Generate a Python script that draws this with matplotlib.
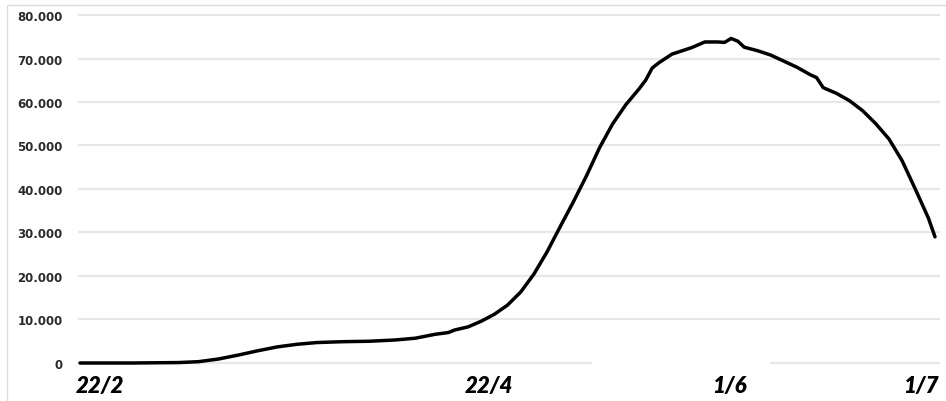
import numpy as np
import matplotlib
matplotlib.use("Agg")
import matplotlib.pyplot as plt
from matplotlib.transforms import ScaledTranslation
from matplotlib.patches import Rectangle
from matplotlib.ticker import FuncFormatter

dates = ["2020-02-22", "2020-03-01", "2020-03-08", "2020-03-11", "2020-03-14",
         "2020-03-17", "2020-03-20", "2020-03-23", "2020-03-26", "2020-03-29",
         "2020-04-02", "2020-04-06", "2020-04-10", "2020-04-13", "2020-04-16",
         "2020-04-18", "2020-04-19", "2020-04-21", "2020-04-23", "2020-04-25",
         "2020-04-27", "2020-04-29", "2020-05-01", "2020-05-03", "2020-05-05",
         "2020-05-07", "2020-05-09", "2020-05-11", "2020-05-13", "2020-05-15",
         "2020-05-17", "2020-05-18", "2020-05-19", "2020-05-20", "2020-05-22",
         "2020-05-24", "2020-05-25", "2020-05-27", "2020-05-29", "2020-05-30",
         "2020-05-31", "2020-06-01", "2020-06-02", "2020-06-04", "2020-06-06",
         "2020-06-08", "2020-06-10", "2020-06-12", "2020-06-13", "2020-06-14",
         "2020-06-16", "2020-06-18", "2020-06-20", "2020-06-22", "2020-06-24",
         "2020-06-26", "2020-06-28", "2020-06-30", "2020-07-01"]
values = [0, 0, 100, 300, 900,
          1800, 2800, 3700, 4300, 4700,
          4900, 5000, 5300, 5700, 6600,
          7000, 7600, 8300, 9600, 11200,
          13300, 16300, 20400, 25500, 31300,
          37000, 43000, 49500, 55000, 59400,
          63000, 65000, 67800, 69000, 71000,
          72000, 72500, 73800, 73800, 73700,
          74600, 74000, 72600, 71800, 70800,
          69400, 68000, 66300, 65600, 63300,
          62000, 60300, 58000, 55000, 51500,
          46500, 40000, 33300, 29000]

tick_dates = ["2020-02-22", "2020-04-22", "2020-06-01", "2020-07-01"]
tick_labels = ["22/2", "22/4", "1/6", "1/7"]
y_ticks = [0, 10000, 20000, 30000, 40000, 50000, 60000, 70000, 80000]

d = np.array(dates, dtype="datetime64[D]")
start = d[0]
days = (d - start).astype(int)
tick_days = (np.array(tick_dates, dtype="datetime64[D]") - start).astype(int)

W, H = 946, 402
fig = plt.figure(figsize=(W / 100, H / 100), dpi=100)
fig.patch.set_facecolor("white")

ax = fig.add_axes([78 / W, (H - 372) / H, (940 - 78) / W, 360 / H])
ax.set_xlim(-0.3, 130.76)
ax.set_ylim(-1840, 80920)

for yv in y_ticks:
    if yv == 0:
        ax.axhline(yv, xmin=0, xmax=0.595, color="#e6e8e8", lw=1.6, zorder=1)
        ax.axhline(yv, xmin=0.804, xmax=1, color="#e6e8e8", lw=1.6, zorder=1)
    else:
        ax.axhline(yv, color="#e6e8e8", lw=1.6, zorder=1)

ax.plot(days, values, color="black", lw=2.5, solid_joinstyle="round",
        solid_capstyle="round", zorder=3, clip_on=False)

for s in ax.spines.values():
    s.set_visible(False)

ax.set_yticks(y_ticks)
ax.yaxis.set_major_formatter(FuncFormatter(lambda v, p: f"{int(v):,}".replace(",", ".")))
ax.tick_params(axis="y", length=0, pad=11, labelsize=8.5, labelcolor="#2a2a2a")
for lab in ax.get_yticklabels():
    lab.set_fontweight("bold")
    lab.set_family("DejaVu Sans")

ax.set_xticks(tick_days)
ax.set_xticklabels(tick_labels)
ax.tick_params(axis="x", length=0, pad=3, labelsize=16, labelcolor="black")
offsets = [20, 14, -8, -14]
for lab, off in zip(ax.get_xticklabels(), offsets):
    lab.set_family(["Lato", "DejaVu Sans"])
    lab.set_fontweight("heavy")
    lab.set_style("italic")
    lab.set_transform(lab.get_transform() + ScaledTranslation(off / 100, 0, fig.dpi_scale_trans))

fig.patches.append(Rectangle((7 / W, -0.1), 1.2, (H - 6) / H + 0.1,
                             transform=fig.transFigure, fill=False,
                             ec="#dcdcdc", lw=1))

fig.savefig("out.png", dpi=100)
